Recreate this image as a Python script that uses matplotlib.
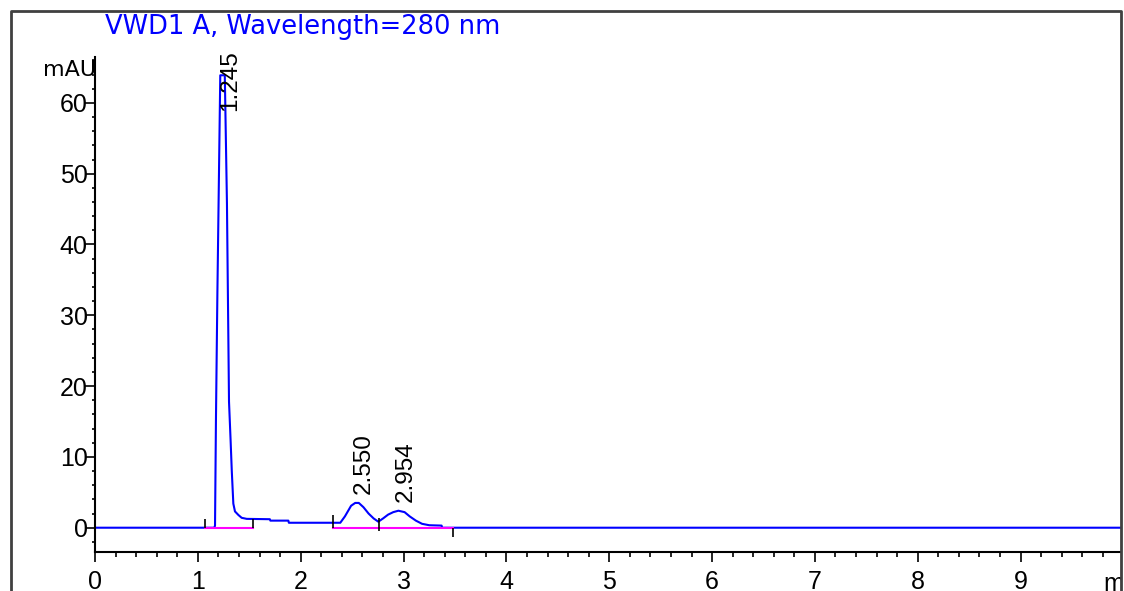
import matplotlib
matplotlib.use('Agg')
import matplotlib.pyplot as plt
from matplotlib.lines import Line2D
from matplotlib.patches import Rectangle
from matplotlib.ticker import MultipleLocator

# detector trace: retention time (min) / absorbance (mAU)
time_min = [0.000, 1.160, 1.167, 1.176, 1.190, 1.218, 1.262, 1.283, 1.303, 1.318,
            1.330, 1.345, 1.361, 1.394, 1.426, 1.475, 1.700, 1.705, 1.880, 1.885,
            2.385, 2.430, 2.490, 2.530, 2.565, 2.610, 2.660, 2.710, 2.755, 2.800,
            2.850, 2.900, 2.950, 3.010, 3.060, 3.120, 3.180, 3.250, 3.370, 3.375,
            9.976]
signal_mau = [0.0, 0.0, 0.3, 15.2, 33.1, 63.9, 63.9, 45.8, 17.8, 12.5,
              8.0, 3.4, 2.3, 1.8, 1.4, 1.25, 1.2, 1.0, 1.0, 0.7,
              0.7, 1.6, 3.1, 3.5, 3.5, 2.9, 2.0, 1.3, 0.85, 1.3,
              1.85, 2.2, 2.4, 2.2, 1.6, 1.0, 0.55, 0.35, 0.3, 0.0,
              0.0]

# integrated peaks
peak_rt = [1.245, 2.550, 2.954]
peak_height = [63.9, 3.5, 2.4]

# integration events (tick marks) and baselines
event_time = [1.07, 1.54, 2.317, 2.765, 3.478]
event_lo = [0.0, 0.0, 0.0, -0.5, -1.3]
event_hi = [1.3, 1.3, 1.8, 1.4, 0.0]
baseline_start = [1.07, 2.317]
baseline_end = [1.54, 3.478]

x_ticks = list(range(10))
y_ticks = [0, 10, 20, 30, 40, 50, 60]

XMAX = 9.976
YMIN, YMAX = -3.43, 66.48
NUM_FONT = ['Liberation Sans', 'DejaVu Sans']
W, H = 1124, 591

fig = plt.figure(figsize=(W / 100, H / 100), dpi=100)
ax = fig.add_axes([95 / W, 39 / H, (1121 - 95) / W, (552 - 57) / H])

ax.plot(time_min, signal_mau, color='#0000ff', lw=1.5, zorder=2)
for s, e in zip(baseline_start, baseline_end):
    ax.plot([s, e], [0, 0], color='#ff00ff', lw=1.5, zorder=3)
ax.vlines(event_time, event_lo, event_hi, color='black', lw=1.2, zorder=4)

for rt, h in zip(peak_rt, peak_height):
    y = min(h + 1.27, YMAX - 7.6)
    ax.annotate(f'{rt:.3f}', xy=(rt, y), xytext=(5, 0), textcoords='offset points',
                rotation=90, ha='center', va='bottom', fontsize=17.5,
                family=NUM_FONT, annotation_clip=False, zorder=5)

ax.set_xlim(0, XMAX)
ax.set_ylim(YMIN, YMAX)
ax.spines['top'].set_visible(False)
ax.spines['right'].set_visible(False)
ax.spines['left'].set_linewidth(1.5)
ax.spines['bottom'].set_linewidth(1.5)

ax.set_xticks(x_ticks)
ax.set_xticklabels([str(v) for v in x_ticks], family=NUM_FONT, fontsize=18)
ax.set_yticks(y_ticks)
ax.set_yticklabels([str(v) for v in y_ticks], family=NUM_FONT, fontsize=18)
ax.xaxis.set_minor_locator(MultipleLocator(0.2))
ax.yaxis.set_minor_locator(MultipleLocator(2))
ax.tick_params(axis='x', which='major', length=7.2, width=1.2, pad=6)
ax.tick_params(axis='x', which='minor', length=3.6, width=1.2)
ax.tick_params(axis='y', which='major', length=7.2, width=1.2, pad=-2)
ax.tick_params(axis='y', which='minor', length=2.5, width=1.2)

# time unit sits at the 10 min position, cut by the frame
ax.text(10, -20 / 495, 'min', transform=ax.get_xaxis_transform(), ha='center',
        va='top', fontsize=18, family=NUM_FONT, clip_on=False)

fig.text(105 / W, 1 - 27 / H, 'VWD1 A, Wavelength=280 nm', color='#0000ff',
         fontsize=18.5, ha='left', va='center')
fig.text(96 / W, 1 - 70 / H, 'mAU', ha='right', va='center', fontsize=16)

# outer frame
fig.add_artist(Rectangle((1122 / W, 0), 2 / W, 1, transform=fig.transFigure,
                         facecolor='white', edgecolor='none', zorder=20))
fx0, fx1, fy = 11 / W, 1121 / W, 1 - 11 / H
fig.add_artist(Line2D([fx0, fx0, fx1, fx1], [0, fy, fy, 0], transform=fig.transFigure,
                      color='#404040', lw=2, zorder=21))

fig.savefig('out.png', dpi=100)
